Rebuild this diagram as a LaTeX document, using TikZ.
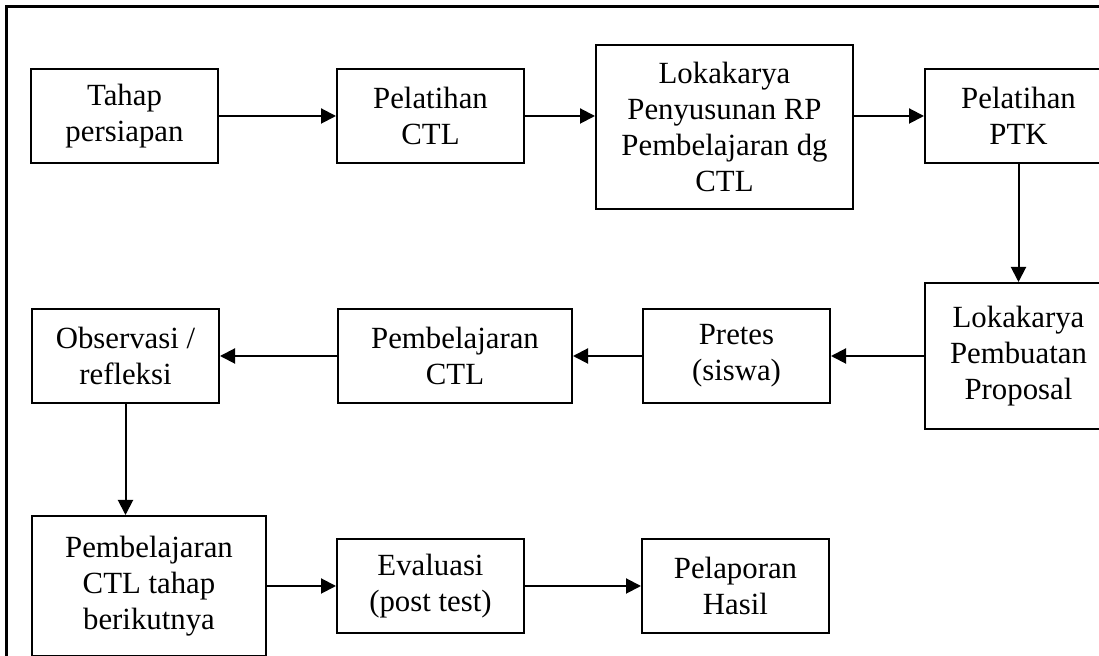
\documentclass[tikz,border=0pt]{standalone}
\usepackage{fontspec}
\setmainfont{Liberation Serif}
\usetikzlibrary{positioning, arrows.meta}

\begin{document}
\begin{tikzpicture}[x=0.5pt, y=-0.5pt,
        stage/.style={draw, line width=1pt, align=center, inner sep=2pt, minimum width=93.5pt, minimum height=47pt, font=\fontsize{15.4}{18}\selectfont},
        widestage/.style={stage, minimum width=117pt},
        arrow/.style={-{Triangle[length=7.5pt, width=7.5pt]}, line width=1pt}
    ]
    \useasboundingbox (0,0) rectangle (1099,656);
    \clip (0,0) rectangle (1099,656);
    \draw [line width=1.2pt] (6.5,670) |- (1110,6.5);

    \node [stage] (tahap) at (124.5,116) {Tahap\\persiapan};
    \node [stage, right=58.5pt of tahap] (ctl) {Pelatihan\\CTL};
    \node [stage, right=35pt of ctl, yshift=-5.5pt, minimum width=128.5pt, minimum height=82pt] (rp) {Lokakarya\\Penyusunan RP\\Pembelajaran dg\\CTL};
    \node [stage, right=35pt of rp, yshift=5.5pt] (ptk) {Pelatihan\\PTK};
    \node [stage, below=59pt of ptk, minimum height=73pt] (proposal) {Lokakarya\\Pembuatan\\Proposal};
    \node [stage, left=46.5pt of proposal] (pretes) {Pretes\\(siswa)};
    \node [widestage, left=34.5pt of pretes] (pbl) {Pembelajaran\\CTL};
    \node [stage, left=58.5pt of pbl] (obs) {Observasi /\\refleksi};
    \node [widestage, below=55.5pt of obs.south west, anchor=north west, minimum height=70pt] (lanjut) {Pembelajaran\\CTL tahap\\berikutnya};
    \node [stage, right=34.5pt of lanjut] (evaluasi) {Evaluasi\\(post test)};
    \node [stage, right=58pt of evaluasi] (lapor) {Pelaporan\\Hasil};

    \draw [arrow] (tahap) -- (ctl);
    \draw [arrow] (ctl) -- (ctl -| rp.west);
    \draw [arrow] (rp.east |- ptk) -- (ptk);
    \draw [arrow] (ptk) -- (proposal);
    \draw [arrow] (proposal) -- (pretes);
    \draw [arrow] (pretes) -- (pbl);
    \draw [arrow] (pbl) -- (obs);
    \draw [arrow] (obs) -- (obs |- lanjut.north);
    \draw [arrow] (lanjut) -- (evaluasi);
    \draw [arrow] (evaluasi) -- (lapor);

\end{tikzpicture}
\end{document}
